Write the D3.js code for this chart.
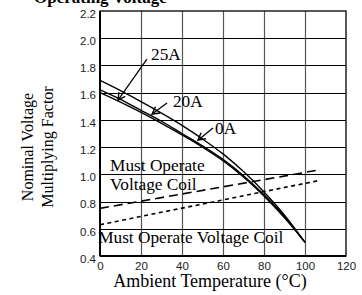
<!DOCTYPE html>
<html>
<head>
<meta charset="utf-8">
<script src="https://cdn.jsdelivr.net/npm/d3@7"></script>
<style>
  html, body { margin: 0; padding: 0; background: #fff; }
  svg { display: block; }
</style>
</head>
<body>
<div id="chart"></div>
<script>
// ---- data ----
const xTicks = [0, 20, 40, 60, 80, 100, 120];
const yTicks = [0.4, 0.6, 0.8, 1.0, 1.2, 1.4, 1.6, 1.8, 2.0, 2.2];

const curveTemps = [0, 10, 20, 30, 40, 50, 60, 70, 80, 90, 100];
const curve25A = [1.69, 1.615, 1.535, 1.45, 1.36, 1.26, 1.15, 1.02, 0.87, 0.70, 0.50];
const curve20A = [1.62, 1.55, 1.47, 1.39, 1.30, 1.21, 1.11, 0.99, 0.85, 0.69, 0.50];
const curve0A  = [1.60, 1.53, 1.455, 1.375, 1.29, 1.20, 1.10, 0.98, 0.84, 0.68, 0.50];

const dashTemps = [0, 106];
const dashVals  = [0.75, 1.03];
const dotTemps  = [0, 107];
const dotVals   = [0.63, 0.955];

// annotations
const arrowLabels = ["25A", "20A", "0A"];
const arrowText   = [[24.9, 1.84], [35.6, 1.494], [56.1, 1.296]];
const arrowTail   = [[22.9, 1.847], [32.7, 1.524], [55.1, 1.34]];
const arrowTip    = [[8.8, 1.546], [25.4, 1.443], [47.8, 1.251]];

const regionLabels = ["Must Operate", "Voltage Coil", "Must Operate Voltage Coil"];
const regionPos    = [[4.9, 1.024], [4.9, 0.884], [-0.9, 0.494]];

const W = 362, H = 295;
const svg = d3.select("#chart").append("svg").attr("width", W).attr("height", H);

const x = d3.scaleLinear().domain([0, 120]).range([100, 346]);
const y = d3.scaleLinear().domain([0.4, 2.2]).range([256, 11]);

const serif = "'Liberation Serif', 'Times New Roman', serif";
const sans = "'Liberation Sans', Arial, sans-serif";

// title (cut off at the top, as in the reference)
svg.append("text").attr("x", 34).attr("y", 3)
  .attr("font-family", serif).attr("font-weight", "bold").attr("font-size", 17)
  .text("Operating Voltage");

// grid
const g = svg.append("g");
g.selectAll("line.v").data(xTicks.slice(1, -1)).enter().append("line")
  .attr("x1", d => Math.round(x(d)) + 0.5).attr("x2", d => Math.round(x(d)) + 0.5)
  .attr("y1", y(2.2)).attr("y2", y(0.4))
  .attr("stroke", "#555").attr("stroke-width", 1.2);
g.selectAll("line.h").data(yTicks.slice(1, -1)).enter().append("line")
  .attr("x1", x(0)).attr("x2", x(120))
  .attr("y1", d => Math.round(y(d)) + 0.5).attr("y2", d => Math.round(y(d)) + 0.5)
  .attr("stroke", "#000").attr("stroke-width", 1.2);

// frame
g.append("rect").attr("x", x(0)).attr("y", y(2.2))
  .attr("width", x(120) - x(0)).attr("height", y(0.4) - y(2.2))
  .attr("fill", "none").attr("stroke", "#000").attr("stroke-width", 1.3);
g.append("line").attr("x1", x(0)).attr("x2", x(0)).attr("y1", y(2.2)).attr("y2", y(0.4))
  .attr("stroke", "#000").attr("stroke-width", 2);
g.append("line").attr("x1", x(0)).attr("x2", x(120)).attr("y1", y(0.4)).attr("y2", y(0.4))
  .attr("stroke", "#000").attr("stroke-width", 2);

// axes tick labels
const yAxis = d3.axisLeft(y).tickValues(yTicks).tickFormat(d3.format(".1f")).tickSize(0).tickPadding(4);
const ya = svg.append("g").attr("transform", `translate(${x(0)},0)`).call(yAxis);
ya.select(".domain").remove();
ya.selectAll("text").attr("font-family", sans).attr("font-size", 11.5).attr("fill", "#222").attr("dy", "0.55em");

const xAxis = d3.axisBottom(x).tickValues(xTicks).tickFormat(d3.format("d")).tickSize(0).tickPadding(6);
const xa = svg.append("g").attr("transform", `translate(0,${y(0.4)})`).call(xAxis);
xa.select(".domain").remove();
xa.selectAll("text").attr("font-family", sans).attr("font-size", 11.5).attr("fill", "#222");

// axis titles
svg.append("text").attr("x", 210).attr("y", 287).attr("text-anchor", "middle")
  .attr("font-family", serif).attr("font-size", 18).text("Ambient Temperature (°C)");
const yl = svg.append("text").attr("transform", "translate(0,147) rotate(-90)")
  .attr("text-anchor", "middle").attr("font-family", serif).attr("font-size", 16);
yl.append("tspan").attr("x", 0).attr("y", 33).text("Nominal Voltage");
yl.append("tspan").attr("x", 0).attr("y", 53).text("Multiplying Factor");

// operate lines
const line = d3.line().x(d => x(d[0])).y(d => y(d[1]));
svg.append("path").datum(dashTemps.map((t, i) => [t, dashVals[i]]))
  .attr("d", line).attr("fill", "none").attr("stroke", "#000")
  .attr("stroke-width", 1.6).attr("stroke-dasharray", "9,5");
svg.append("path").datum(dotTemps.map((t, i) => [t, dotVals[i]]))
  .attr("d", line).attr("fill", "none").attr("stroke", "#000")
  .attr("stroke-width", 1.6).attr("stroke-dasharray", "4,3.5");

// curves
const curveLine = d3.line().x(d => x(d[0])).y(d => y(d[1])).curve(d3.curveMonotoneX);
[curve25A, curve20A, curve0A].forEach(vals => {
  svg.append("path").datum(curveTemps.map((t, i) => [t, vals[i]]))
    .attr("d", curveLine).attr("fill", "none").attr("stroke", "#000").attr("stroke-width", 1.4);
});

// region labels
regionLabels.forEach((lab, i) => {
  svg.append("text").attr("x", x(regionPos[i][0])).attr("y", y(regionPos[i][1]))
    .attr("font-family", serif).attr("font-size", 17.3).text(lab);
});

// arrows
arrowLabels.forEach((lab, i) => {
  const tx = x(arrowTail[i][0]), ty = y(arrowTail[i][1]);
  const hx = x(arrowTip[i][0]), hy = y(arrowTip[i][1]);
  svg.append("line").attr("x1", tx).attr("y1", ty).attr("x2", hx).attr("y2", hy)
    .attr("stroke", "#000").attr("stroke-width", 1.3);
  const ang = Math.atan2(ty - hy, tx - hx);
  const len = 8, spread = 0.5;
  const p1 = [hx + len * Math.cos(ang + spread), hy + len * Math.sin(ang + spread)];
  const p2 = [hx + len * Math.cos(ang - spread), hy + len * Math.sin(ang - spread)];
  svg.append("path").attr("d", `M${p1[0]},${p1[1]}L${hx},${hy}L${p2[0]},${p2[1]}`)
    .attr("fill", "none").attr("stroke", "#000").attr("stroke-width", 1.4);
  svg.append("text").attr("x", x(arrowText[i][0])).attr("y", y(arrowText[i][1]))
    .attr("font-family", serif).attr("font-size", 17.3).text(lab);
});
</script>
</body>
</html>
